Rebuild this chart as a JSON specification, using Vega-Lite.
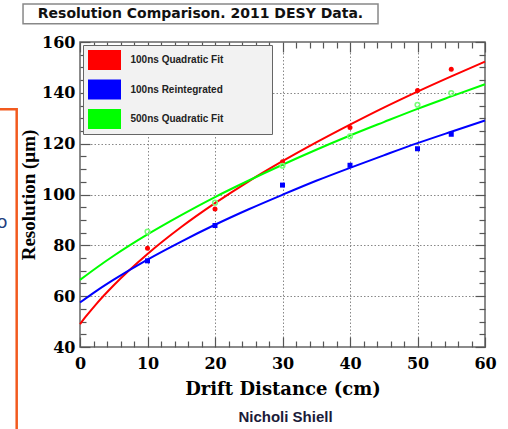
{
  "$schema": "https://vega.github.io/schema/vega-lite/v6.json",
  "width": 405,
  "height": 305,
  "autosize": "none",
  "padding": {"left": 80, "top": 42, "right": 23, "bottom": 82},
  "background": "white",
  "config": {
    "view": {"stroke": "#666", "strokeWidth": 1.5},
    "axis": {
      "domain": false,
      "tickColor": "#555",
      "tickWidth": 1.2,
      "labelFont": "DejaVu Serif",
      "labelFontWeight": "bold",
      "labelFontSize": 16,
      "labelColor": "#000",
      "labelOverlap": false,
      "labelFlush": false,
      "titleFont": "DejaVu Serif",
      "titleFontWeight": "bold",
      "titleColor": "#000"
    }
  },
  "datasets": {
    "fits": [
      {"s": "100ns Quadratic Fit", "x": 0, "y": 49.0},
      {"s": "100ns Quadratic Fit", "x": 1, "y": 52.4},
      {"s": "100ns Quadratic Fit", "x": 2.5, "y": 57.2},
      {"s": "100ns Quadratic Fit", "x": 5, "y": 64.3},
      {"s": "100ns Quadratic Fit", "x": 10, "y": 76.6},
      {"s": "100ns Quadratic Fit", "x": 15, "y": 87.2},
      {"s": "100ns Quadratic Fit", "x": 20, "y": 96.6},
      {"s": "100ns Quadratic Fit", "x": 25, "y": 105.2},
      {"s": "100ns Quadratic Fit", "x": 30, "y": 113.1},
      {"s": "100ns Quadratic Fit", "x": 35, "y": 120.5},
      {"s": "100ns Quadratic Fit", "x": 40, "y": 127.5},
      {"s": "100ns Quadratic Fit", "x": 45, "y": 134.2},
      {"s": "100ns Quadratic Fit", "x": 50, "y": 140.5},
      {"s": "100ns Quadratic Fit", "x": 55, "y": 146.5},
      {"s": "100ns Quadratic Fit", "x": 60, "y": 152.3},
      {"s": "100ns Reintegrated", "x": 0, "y": 57.5},
      {"s": "100ns Reintegrated", "x": 2.5, "y": 62.2},
      {"s": "100ns Reintegrated", "x": 5, "y": 66.5},
      {"s": "100ns Reintegrated", "x": 10, "y": 74.4},
      {"s": "100ns Reintegrated", "x": 15, "y": 81.5},
      {"s": "100ns Reintegrated", "x": 20, "y": 88.1},
      {"s": "100ns Reintegrated", "x": 25, "y": 94.2},
      {"s": "100ns Reintegrated", "x": 30, "y": 99.9},
      {"s": "100ns Reintegrated", "x": 35, "y": 105.4},
      {"s": "100ns Reintegrated", "x": 40, "y": 110.5},
      {"s": "100ns Reintegrated", "x": 45, "y": 115.4},
      {"s": "100ns Reintegrated", "x": 50, "y": 120.2},
      {"s": "100ns Reintegrated", "x": 55, "y": 124.7},
      {"s": "100ns Reintegrated", "x": 60, "y": 129.1},
      {"s": "500ns Quadratic Fit", "x": 0, "y": 66.4},
      {"s": "500ns Quadratic Fit", "x": 2.5, "y": 71.3},
      {"s": "500ns Quadratic Fit", "x": 5, "y": 75.9},
      {"s": "500ns Quadratic Fit", "x": 10, "y": 84.3},
      {"s": "500ns Quadratic Fit", "x": 15, "y": 91.9},
      {"s": "500ns Quadratic Fit", "x": 20, "y": 99.0},
      {"s": "500ns Quadratic Fit", "x": 25, "y": 105.5},
      {"s": "500ns Quadratic Fit", "x": 30, "y": 111.7},
      {"s": "500ns Quadratic Fit", "x": 35, "y": 117.6},
      {"s": "500ns Quadratic Fit", "x": 40, "y": 123.2},
      {"s": "500ns Quadratic Fit", "x": 45, "y": 128.5},
      {"s": "500ns Quadratic Fit", "x": 50, "y": 133.7},
      {"s": "500ns Quadratic Fit", "x": 55, "y": 138.6},
      {"s": "500ns Quadratic Fit", "x": 60, "y": 143.4}
    ],
    "points": [
      {"s": "100ns Quadratic Fit", "x": 10, "y": 78.9},
      {"s": "100ns Quadratic Fit", "x": 20, "y": 94.3},
      {"s": "100ns Quadratic Fit", "x": 30, "y": 112.9},
      {"s": "100ns Quadratic Fit", "x": 40, "y": 126.4},
      {"s": "100ns Quadratic Fit", "x": 50, "y": 140.9},
      {"s": "100ns Quadratic Fit", "x": 55, "y": 149.3},
      {"s": "100ns Reintegrated", "x": 10, "y": 73.9},
      {"s": "100ns Reintegrated", "x": 20, "y": 87.8},
      {"s": "100ns Reintegrated", "x": 30, "y": 103.7},
      {"s": "100ns Reintegrated", "x": 40, "y": 111.5},
      {"s": "100ns Reintegrated", "x": 50, "y": 118.0},
      {"s": "100ns Reintegrated", "x": 55, "y": 123.7},
      {"s": "500ns Quadratic Fit", "x": 10, "y": 85.4},
      {"s": "500ns Quadratic Fit", "x": 20, "y": 96.8},
      {"s": "500ns Quadratic Fit", "x": 30, "y": 111.3},
      {"s": "500ns Quadratic Fit", "x": 40, "y": 122.9},
      {"s": "500ns Quadratic Fit", "x": 50, "y": 135.3},
      {"s": "500ns Quadratic Fit", "x": 55, "y": 139.9}
    ]
  },
  "resolve": {"axis": {"x": "independent", "y": "independent"}},
  "layer": [
    {
      "data": {"name": "fits"},
      "mark": {"type": "line", "strokeWidth": 2, "interpolate": "monotone"},
      "encoding": {
        "x": {
          "field": "x", "type": "quantitative",
          "scale": {"domain": [0, 60], "nice": false, "zero": false},
          "axis": {
            "orient": "bottom",
            "values": [0,2,4,6,8,10,12,14,16,18,20,22,24,26,28,30,32,34,36,38,40,42,44,46,48,50,52,54,56,58,60],
            "labelExpr": "datum.value % 10 === 0 ? datum.label : ''",
            "tickSize": {"condition": {"test": "datum.value % 10 === 0", "value": -10}, "value": -6},
            "grid": true,
            "gridColor": "#888",
            "gridDash": [1.5, 2],
            "gridWidth": 1,
            "gridOpacity": {"condition": {"test": "datum.value % 10 === 0 && datum.value > 0 && datum.value < 60", "value": 1}, "value": 0},
            "labelPadding": 18,
            "title": "Drift Distance (cm)",
            "titleFontSize": 18,
            "titlePadding": 5
          }
        },
        "y": {
          "field": "y", "type": "quantitative",
          "scale": {"domain": [40, 160], "nice": false, "zero": false},
          "axis": {
            "orient": "left",
            "values": [40,45,50,55,60,65,70,75,80,85,90,95,100,105,110,115,120,125,130,135,140,145,150,155,160],
            "labelExpr": "datum.value % 20 === 0 ? datum.label : ''",
            "tickSize": {"condition": {"test": "datum.value % 20 === 0", "value": -10}, "value": -6},
            "grid": true,
            "gridColor": "#888",
            "gridDash": [1.5, 2],
            "gridWidth": 1,
            "gridOpacity": {"condition": {"test": "datum.value % 20 === 0 && datum.value > 40 && datum.value < 160", "value": 1}, "value": 0},
            "labelPadding": 15,
            "title": "Resolution (μm)",
            "titleFont": "Liberation Serif",
            "titleFontSize": 19,
            "titlePadding": 3
          }
        },
        "color": {
          "field": "s", "type": "nominal",
          "scale": {"domain": ["100ns Quadratic Fit", "100ns Reintegrated", "500ns Quadratic Fit"], "range": ["#ff0000", "#0000ff", "#00ff00"]},
          "legend": {
            "orient": "none",
            "legendX": 3,
            "legendY": 3,
            "title": "\u00a0",
            "titleOrient": "right",
            "titlePadding": 44,
            "titleFontSize": 6,
            "symbolType": "M-1.65,-1H1.65V1H-1.65Z",
            "symbolSize": 400,
            "symbolOffset": 6.5,
            "symbolStrokeWidth": 0,
            "labelOffset": 16,
            "labelFont": "Liberation Sans",
            "labelFontSize": 10,
            "labelFontWeight": "bold",
            "labelColor": "#222",
            "fillColor": "#f2f2f2",
            "strokeColor": "#666",
            "padding": 5,
            "rowPadding": 9.5,
            "encode": {"symbols": {"update": {"fill": {"scale": "color", "field": "value"}, "opacity": {"value": 1}}}}
          }
        }
      }
    },
    {
      "data": {"name": "points"},
      "transform": [{"filter": "datum.s !== '500ns Quadratic Fit'"}],
      "mark": {"type": "point", "filled": true, "size": 25, "opacity": 1},
      "encoding": {
        "x": {
          "field": "x", "type": "quantitative",
          "axis": {
            "orient": "top",
            "values": [0,2,4,6,8,10,12,14,16,18,20,22,24,26,28,30,32,34,36,38,40,42,44,46,48,50,52,54,56,58,60],
            "labels": false,
            "grid": false,
            "tickSize": {"condition": {"test": "datum.value % 10 === 0", "value": -10}, "value": -6},
            "title": null
          }
        },
        "y": {
          "field": "y", "type": "quantitative",
          "axis": {
            "orient": "right",
            "values": [40,45,50,55,60,65,70,75,80,85,90,95,100,105,110,115,120,125,130,135,140,145,150,155,160],
            "labels": false,
            "grid": false,
            "tickSize": {"condition": {"test": "datum.value % 20 === 0", "value": -10}, "value": -6},
            "title": null
          }
        },
        "color": {"field": "s", "type": "nominal", "legend": null},
        "shape": {
          "field": "s", "type": "nominal",
          "scale": {"domain": ["100ns Quadratic Fit", "100ns Reintegrated"], "range": ["circle", "square"]},
          "legend": null
        }
      }
    },
    {
      "data": {"name": "points"},
      "transform": [{"filter": "datum.s === '500ns Quadratic Fit'"}],
      "mark": {"type": "point", "shape": "circle", "filled": false, "size": 22, "strokeWidth": 1.5, "color": "#77ff77", "opacity": 1},
      "encoding": {
        "x": {"field": "x", "type": "quantitative", "axis": null},
        "y": {"field": "y", "type": "quantitative", "axis": null}
      }
    },
    {
      "data": {"values": [{}]},
      "mark": {"type": "rect", "fill": "white", "stroke": "#888", "strokeWidth": 1.5},
      "encoding": {
        "x": {"datum": -8.44, "type": "quantitative", "axis": null},
        "x2": {"datum": 44.15},
        "y": {"datum": 175.0, "type": "quantitative", "axis": null},
        "y2": {"datum": 167.2}
      }
    },
    {
      "data": {"values": [{"t": "Resolution Comparison. 2011 DESY Data."}]},
      "mark": {"type": "text", "font": "DejaVu Sans", "fontWeight": "bold", "fontSize": 14, "color": "#111", "align": "center", "baseline": "middle"},
      "encoding": {
        "x": {"datum": 17.85, "type": "quantitative", "axis": null},
        "y": {"datum": 171.1, "type": "quantitative", "axis": null},
        "text": {"field": "t"}
      }
    },
    {
      "data": {"values": [{"t": "Nicholi Shiell"}]},
      "mark": {"type": "text", "font": "Liberation Sans", "fontWeight": "bold", "fontSize": 15, "color": "#1b1b3a", "align": "center", "baseline": "middle"},
      "encoding": {
        "x": {"datum": 30.44, "type": "quantitative", "axis": null},
        "y": {"datum": 12.44, "type": "quantitative", "axis": null},
        "text": {"field": "t"}
      }
    },
    {
      "data": {"values": [{}]},
      "mark": {"type": "rect", "fill": "transparent", "stroke": "#f25a1e", "strokeWidth": 2.5},
      "encoding": {
        "x": {"datum": -13.3, "type": "quantitative", "axis": null},
        "x2": {"datum": -9.38},
        "y": {"datum": 133.5, "type": "quantitative", "axis": null},
        "y2": {"datum": 3.4}
      }
    },
    {
      "data": {"values": [{"t": "o"}]},
      "mark": {"type": "text", "font": "DejaVu Sans", "fontSize": 18, "color": "#1f3f7f", "align": "right", "baseline": "alphabetic"},
      "encoding": {
        "x": {"datum": -10.74, "type": "quantitative", "axis": null},
        "y": {"datum": 86.9, "type": "quantitative", "axis": null},
        "text": {"field": "t"}
      }
    }
  ]
}
